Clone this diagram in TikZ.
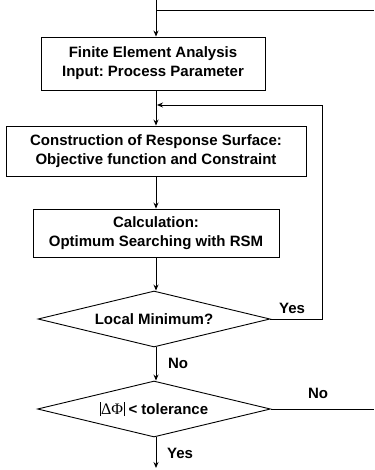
\documentclass[tikz,border=0pt]{standalone}
\usepackage{fontspec}
\setmainfont{Liberation Sans}
\newfontfamily\serifgr{Liberation Serif}
\usetikzlibrary{shapes.geometric,arrows.meta}
\frenchspacing
\begin{document}
\begin{tikzpicture}[x=1pt,y=-1pt,
  every node/.style={font=\bfseries\fontsize{15}{19}\selectfont},
  box/.style={draw,line width=0.9pt,align=center,inner sep=0pt},
  dia/.style={draw,line width=0.9pt,diamond,aspect=4,inner sep=0pt},
  conn/.style={line width=0.9pt},
  arr/.style={conn,-{Stealth[length=6pt,width=5pt]}},
  lbl/.style={inner sep=0pt}]
\useasboundingbox (0,0) rectangle (374,470);
% nodes
\node[box,minimum width=224pt,minimum height=53pt] (b1) at (153,63.5) {Finite Element Analysis\\Input: Process Parameter};
\node[box,minimum width=300pt,minimum height=50pt] (b2) at (156,151) {Construction of Response Surface:\\Objective function and Constraint};
\node[box,minimum width=246pt,minimum height=48pt] (b3) at (156,233) {Calculation:\\Optimum Searching with RSM};
\node[dia,minimum width=232pt,minimum height=56pt] (d1) at (154,319) {Local Minimum?};
\node[dia,minimum width=233pt,minimum height=56pt] (d2) at (154,409) {\raisebox{-2pt}{\rule{0.8pt}{14pt}}{\serifgr\mdseries\fontsize{16}{18}\selectfont\kern0.5pt ΔΦ\kern0.5pt}\raisebox{-2pt}{\rule{0.8pt}{14pt}} {<} tolerance};
% coordinates
\coordinate (top) at (156,0);
\coordinate (tj) at (156,10);
\coordinate (tr) at (374,10);
\coordinate (j2) at (157,105);
\coordinate (yr) at (322,319);
\coordinate (nr) at (374,409);
\coordinate (end) at (156,468);
% connectors
\draw[arr] (top) -- (top |- b1.north);
\draw[conn] (tj) -- (tr);
\draw[arr] (top |- b1.south) -- (top |- b2.north);
\draw[arr] (top |- b2.south) -- (top |- b3.north);
\draw[arr] (top |- b3.south) -- (top |- d1.north);
\draw[arr] (top |- d1.south) -- (top |- d2.north);
\draw[arr] (top |- d2.south) -- (end);
\draw[arr] (d1.east) -- (yr) -- (yr |- j2) -- (j2);
\draw[conn] (d2.east) -- (nr);
% labels
\node[lbl] (l1) at (292,308) {Yes};
\node[lbl] (l2) at (178,363) {No};
\node[lbl] (l3) at (318,393) {No};
\node[lbl] (l4) at (180,453) {Yes};
\end{tikzpicture}
\end{document}
